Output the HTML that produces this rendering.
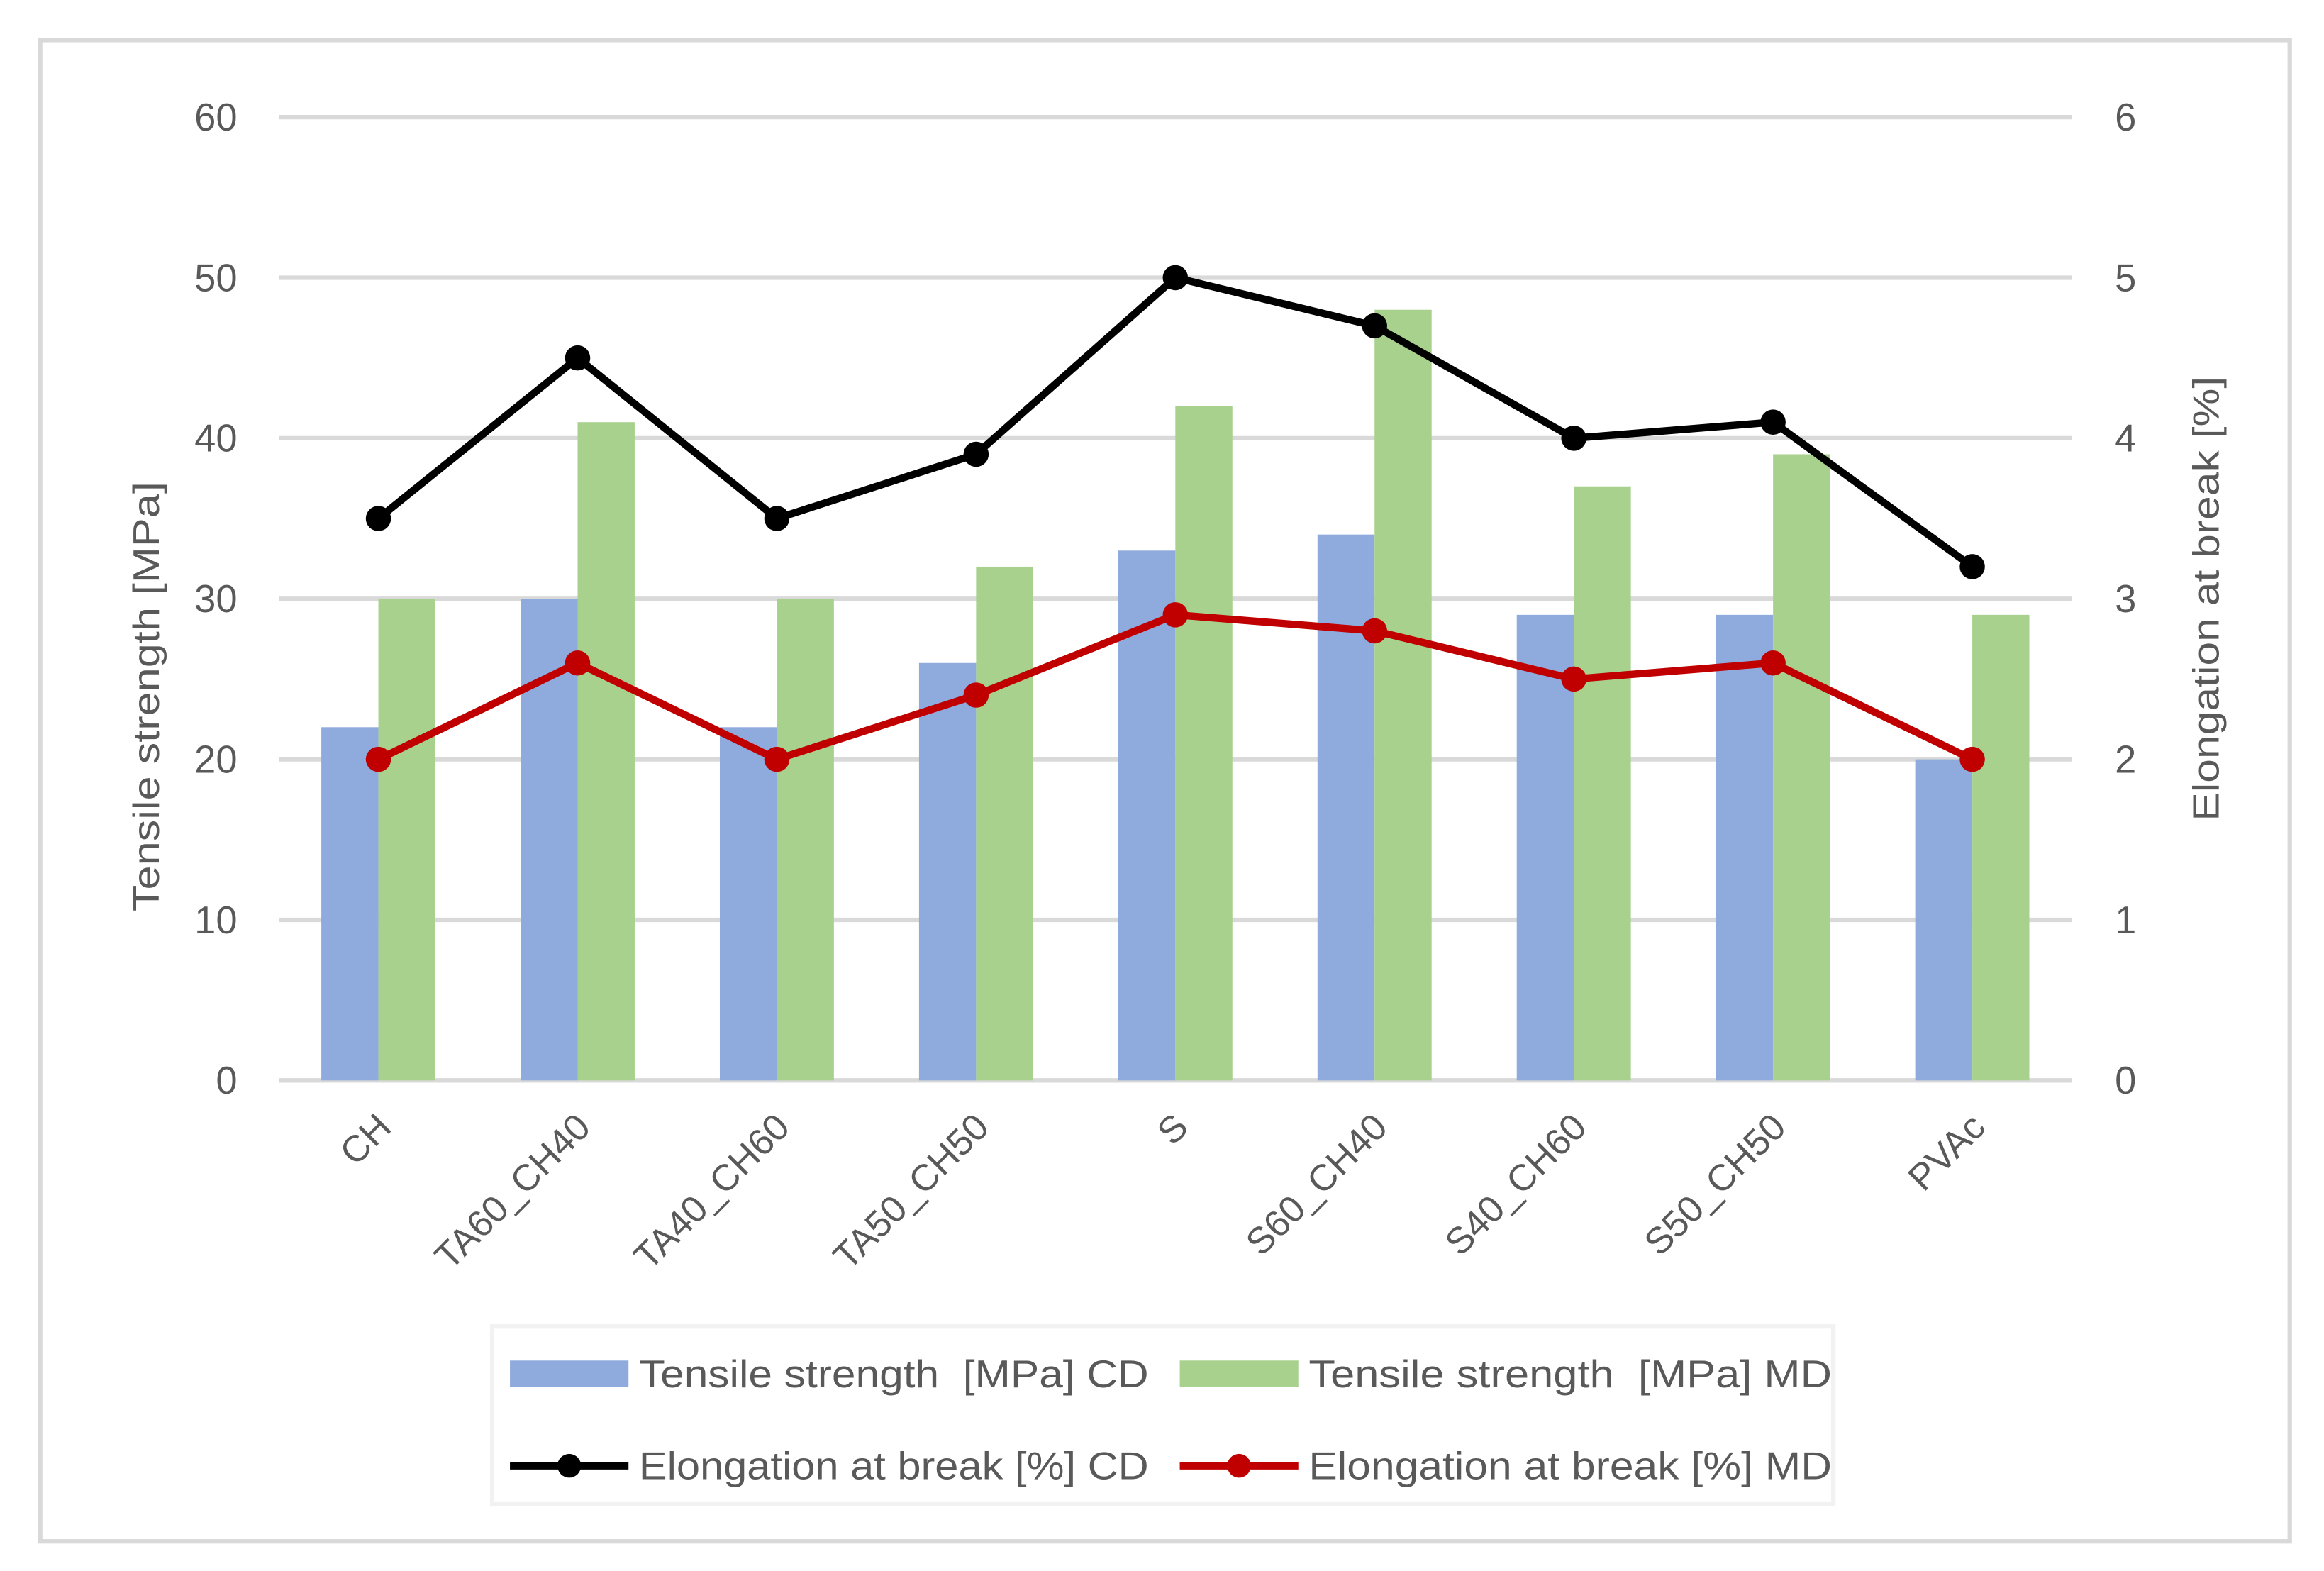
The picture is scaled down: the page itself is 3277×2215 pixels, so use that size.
<!DOCTYPE html>
<html><head><meta charset="utf-8">
<style>html,body{margin:0;padding:0;background:#fff;}svg{display:block;}text{font-family:"Liberation Sans",sans-serif;fill:#595959;}</style>
</head><body>
<svg id="chart" width="3277" height="2215" viewBox="0 0 1568 1060" xmlns="http://www.w3.org/2000/svg">
<rect x="27" y="27" width="1518" height="1013" fill="#fff" stroke="#d9d9d9" stroke-width="3"/>
<g id="grid"></g><g id="bars"></g><g id="lines"></g><g id="labels"></g>
<text transform="translate(107,470) rotate(-90)" text-anchor="middle" font-size="25" textLength="290" lengthAdjust="spacingAndGlyphs">Tensile strength [MPa]</text>
<text transform="translate(1497,404) rotate(-90)" text-anchor="middle" font-size="25" textLength="300" lengthAdjust="spacingAndGlyphs">Elongation at break [%]</text>
<rect x="332" y="895" width="905" height="120" fill="#fff" stroke="#f2f2f2" stroke-width="3"/>
<rect x="344" y="918" width="80" height="18" fill="#8faadc"/>
<text x="431" y="936" font-size="26" textLength="344" lengthAdjust="spacingAndGlyphs">Tensile strength &#160;[MPa] CD</text>
<rect x="796" y="918" width="80" height="18" fill="#a9d18e"/>
<text x="883" y="936" font-size="26" textLength="353" lengthAdjust="spacingAndGlyphs">Tensile strength &#160;[MPa] MD</text>
<line x1="344" y1="989" x2="424" y2="989" stroke="#000" stroke-width="5"/>
<circle cx="384" cy="989" r="8" fill="#000"/>
<text x="431" y="998" font-size="26" textLength="344" lengthAdjust="spacingAndGlyphs">Elongation at break [%] CD</text>
<line x1="796" y1="989" x2="876" y2="989" stroke="#c00000" stroke-width="5"/>
<circle cx="836" cy="989" r="8" fill="#c00000"/>
<text x="883" y="998" font-size="26" textLength="353" lengthAdjust="spacingAndGlyphs">Elongation at break [%] MD</text>
</svg>
<script>
const categories=["CH","TA60_CH40","TA40_CH60","TA50_CH50","S","S60_CH40","S40_CH60","S50_CH50","PVAc"];
const tensileCD=[22,30,22,26,33,34,29,29,20];
const tensileMD=[30,41,30,32,42,48,37,39,29];
const elongCD=[3.5,4.5,3.5,3.9,5.0,4.7,4.0,4.1,3.2];
const elongMD=[2.0,2.6,2.0,2.4,2.9,2.8,2.5,2.6,2.0];
const leftTicks=[0,10,20,30,40,50,60];
const rightTicks=[0,1,2,3,4,5,6];
const NS="http://www.w3.org/2000/svg";
const X0=188,X1=1398,Y0=729,Y1=79;
const band=(X1-X0)/categories.length;
const yL=v=>Y0-(v/60)*(Y0-Y1);
const yR=v=>Y0-(v/6)*(Y0-Y1);
const xc=i=>X0+band*(i+0.5);
function mk(t,a,p){const e=document.createElementNS(NS,t);for(const k in a)e.setAttribute(k,a[k]);p.appendChild(e);return e;}
const grid=document.getElementById('grid'),bars=document.getElementById('bars'),lines=document.getElementById('lines'),labels=document.getElementById('labels');
leftTicks.forEach(v=>{
 const l=mk('line',{x1:X0,x2:X1,y1:yL(v),y2:yL(v),stroke:'#d9d9d9','stroke-width':3},grid);
 
 
 const t=mk('text',{x:160,y:yL(v)+9,'text-anchor':'end','font-size':26},labels);t.textContent=v;
 
 
});
rightTicks.forEach(v=>{
 const t=mk('text',{x:1427,y:yR(v)+9,'font-size':26},labels);t.textContent=v;
 
 
});
const bw=38.5;
categories.forEach((c,i)=>{
 const b1=mk('rect',{x:xc(i)-bw,y:yL(tensileCD[i]),width:bw,height:Y0-yL(tensileCD[i]),fill:'#8faadc'},bars);
 
 
 const b2=mk('rect',{x:xc(i),y:yL(tensileMD[i]),width:bw,height:Y0-yL(tensileMD[i]),fill:'#a9d18e'},bars);
 
 
 const t=mk('text',{transform:`translate(${xc(i)+10},${762}) rotate(-45)`,'text-anchor':'end','font-size':25},labels);t.textContent=c;
 
 
});
const base=mk('line',{x1:X0,x2:X1,y1:Y0,y2:Y0,stroke:'#d9d9d9',"stroke-width":3},grid);


[[elongCD,'#000','elong-cd'],[elongMD,'#c00000','elong-md']].forEach(([d,col,n])=>{
 const p=mk('polyline',{points:d.map((v,i)=>xc(i)+','+yR(v)).join(' '),fill:'none',stroke:col,'stroke-width':5,'stroke-linejoin':'round'},lines);
 
 
 d.forEach((v,i)=>{const c=mk('circle',{cx:xc(i),cy:yR(v),r:8.5,fill:col},lines);
  
  });
});
</script>
</body></html>
